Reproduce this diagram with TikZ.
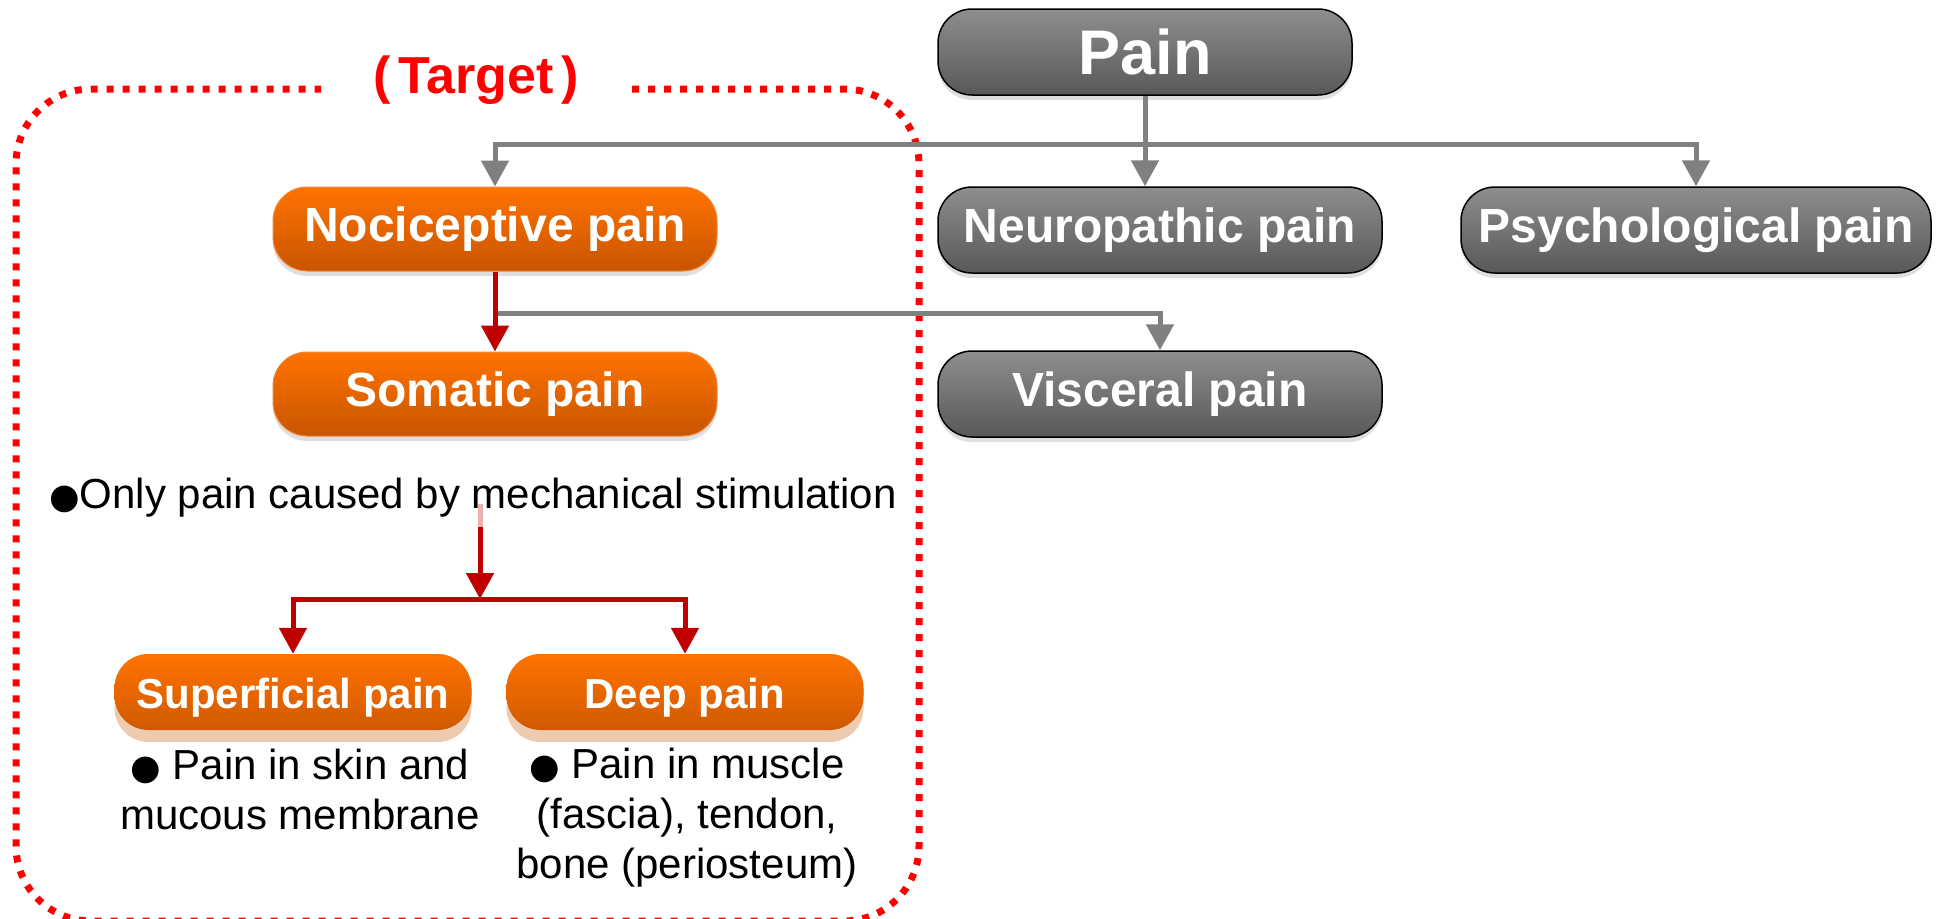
\documentclass[tikz,border=0pt]{standalone}
\usepackage{fontspec}
\setmainfont{Liberation Sans}
\newfontfamily\bulletfont{DejaVu Sans}
\usetikzlibrary{arrows.meta,shadows,calc}
\definecolor{gtop}{HTML}{8E8E8E}
\definecolor{gbot}{HTML}{585858}
\definecolor{otop}{HTML}{FF7300}
\definecolor{obot}{HTML}{C85500}
\definecolor{oedge}{HTML}{F3873A}
\definecolor{peach}{HTML}{EDCBB0}
\definecolor{conngray}{HTML}{808080}
\definecolor{darkred}{HTML}{C00000}
\definecolor{fadered}{HTML}{EBB0B0}
\newcommand{\blt}{{\bulletfont\fontsize{35}{40}\selectfont ●}}
\tikzset{
  x=1pt, y=-1pt,
  boxfont/.style={font=\bfseries\fontsize{48}{52}\selectfont},
  graybox/.style={boxfont, rounded corners=34pt, draw=black, line width=1.5pt,
    top color=gtop, bottom color=gbot, text=white, inner sep=0pt,
    drop shadow={opacity=0.25, shadow xshift=0pt, shadow yshift=-5pt}},
  orangebox/.style={boxfont, rounded corners=34pt, draw=oedge, line width=1pt,
    top color=otop, bottom color=obot, text=white, inner sep=0pt,
    drop shadow={opacity=0.25, shadow xshift=0pt, shadow yshift=-5pt}},
  smallorange/.style={font=\bfseries\fontsize{42}{46}\selectfont, rounded corners=34pt,
    draw=none, fill=peach, text=white, inner sep=0pt,
    path picture={\shade[top color=otop, bottom color=obot]
      (path picture bounding box.north west) rectangle
      ($(path picture bounding box.south east)+(0,-12)$);}},
  gline/.style={draw=conngray, line width=5pt},
  garrow/.style={gline, -{Triangle[width=27pt,length=26pt]}},
  rline/.style={draw=darkred, line width=5pt},
  rarrow/.style={rline, -{Triangle[width=27pt,length=26pt]}},
  reddot/.style={draw=red, line width=7pt, dash pattern=on 7pt off 9pt},
  bodytext/.style={font=\fontsize{42}{50}\selectfont, text=black, inner sep=0pt},
}
\begin{document}
\begin{tikzpicture}
\useasboundingbox (0,0) rectangle (1943,918);
\fill[white] (0,0) rectangle (1943,918);

% dotted target frame
\draw[reddot, rounded corners=75pt] (632,89) -- (919,89) -- (919,921) -- (16,921) -- (16,89) -- (321,89);
\node[text=red, font=\bfseries\fontsize{52}{56}\selectfont, inner sep=0pt] (title) at (476,80) {(\hspace{8pt}Target\hspace{8pt})};

% boxes
\node[graybox, font=\bfseries\fontsize{63}{66}\selectfont, minimum width=414pt, minimum height=86pt] (pain) at (1145,52) {Pain};
\node[orangebox, minimum width=444pt, minimum height=84pt] (noci) at (495,229) {Nociceptive pain};
\node[graybox, minimum width=444pt, minimum height=86pt] (neuro) at (1160,230) {Neuropathic pain};
\node[graybox, minimum width=470pt, minimum height=86pt] (psych) at (1696,230) {Psychological pain};
\node[orangebox, minimum width=444pt, minimum height=84pt] (soma) at (495,394) {Somatic pain};
\node[graybox, minimum width=444pt, minimum height=86pt] (visc) at (1160,394) {Visceral pain};
\node[smallorange, minimum width=357pt, minimum height=88pt] (sup) at (293,698) {\raisebox{4pt}{Superficial pain}};
\node[smallorange, minimum width=357pt, minimum height=88pt] (deep) at (685,698) {\raisebox{4pt}{Deep pain}};

% texts
\node[bodytext, anchor=base] (mech) at (473,508) {\blt Only pain caused by mechanical stimulation};
\node[bodytext, anchor=base, align=center] (suptext) at (300,829) {\blt\ Pain in skin and\\mucous membrane};
\node[bodytext, anchor=base, align=center] (deeptext) at (687,878) {\blt\ Pain in muscle\\(fascia), tendon,\\bone (periosteum)};

% gray connectors
\coordinate (j1) at (1145,144);
\draw[gline] (pain.south) -- (j1);
\draw[garrow] (j1) -| (noci.north);
\draw[garrow] (j1) -| (psych.north);
\draw[garrow] (j1) -- (j1 |- neuro.north);
\coordinate (j2) at (497,313);
\draw[garrow] (j2) -| (visc.north);

% red connectors
\draw[rarrow] (noci.south) -- (soma.north);
\coordinate (r0) at (480,504);
\coordinate (r1) at (480,527);
\coordinate (j3) at (480,599);
\draw[draw=fadered, line width=5pt] (r0) -- (r1);
\draw[rarrow] (r1) -- (j3);
\draw[rarrow] (j3) -| (sup.north);
\draw[rarrow] (j3) -| (deep.north);
\end{tikzpicture}
\end{document}
